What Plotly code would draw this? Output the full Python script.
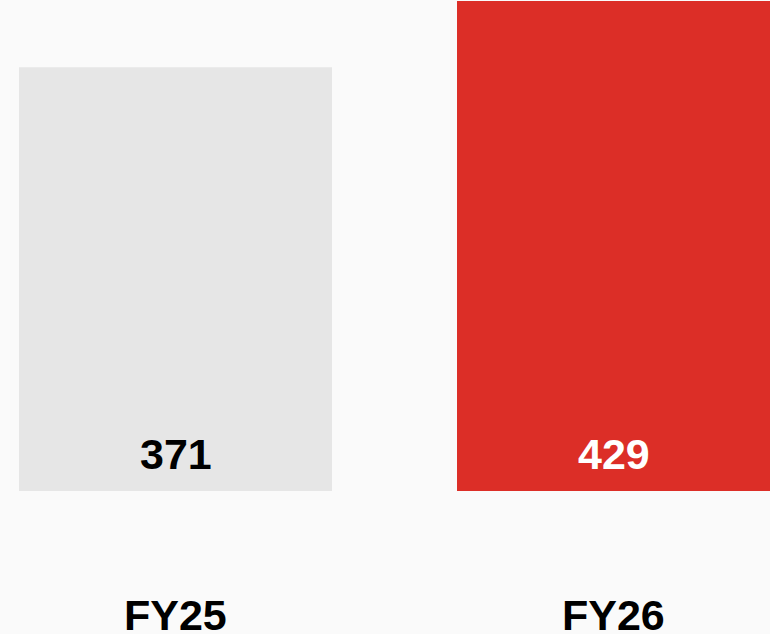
import plotly.graph_objects as go

categories = ["FY25", "FY26"]
values = [371, 429]
bar_colors = ["#e6e6e6", "#dc2e27"]
value_text_colors = ["#000000", "#ffffff"]

W, H = 770, 634
x_pos = list(range(len(categories)))

fig = go.Figure()
fig.add_trace(go.Bar(
    x=x_pos, y=values,
    width=0.7146,
    marker=dict(color=bar_colors, line=dict(width=0)),
    hoverinfo="skip",
))

font_family = "Liberation Sans, Arial, Helvetica, sans-serif"
annotations = []
for xi, cat, v, tc in zip(x_pos, categories, values, value_text_colors):
    annotations.append(dict(
        x=xi, y=0, xref="x", yref="y", text=f"<b>{v}</b>", showarrow=False,
        yanchor="middle", xanchor="center", yshift=37,
        font=dict(size=43, color=tc, family=font_family),
    ))
    annotations.append(dict(
        x=xi, y=0, xref="x", yref="y", text=f"<b>{cat}</b>", showarrow=False,
        yanchor="middle", xanchor="center", yshift=-124,
        font=dict(size=43, color="#000000", family=font_family),
    ))

fig.update_layout(
    width=W, height=H,
    margin=dict(l=0, r=0, t=0, b=0),
    paper_bgcolor="#fafafa", plot_bgcolor="rgba(0,0,0,0)",
    showlegend=False,
    xaxis=dict(range=[-0.4007, 1.3573], visible=False, fixedrange=True),
    yaxis=dict(range=[-125.2, 429.9], visible=False, fixedrange=True),
    annotations=annotations,
)

fig.write_html(
    "out.html",
    config={"displayModeBar": False},
    post_script="document.body.style.margin='0';document.body.style.overflow='hidden';",
)
